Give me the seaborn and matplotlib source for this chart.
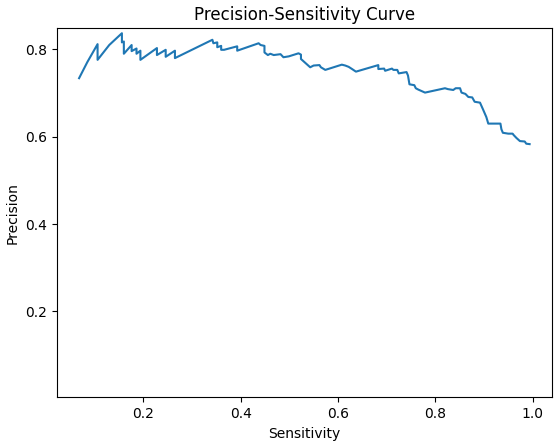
import matplotlib
matplotlib.use('Agg')

import pandas as pd
import matplotlib.pyplot as plt
import seaborn as sns

# Curve points (recall / precision pairs)
sensitivity = [
    0.068, 0.085, 0.106, 0.106, 0.130, 0.156, 0.156, 0.160, 0.160, 0.176,
    0.176, 0.186, 0.186, 0.194, 0.194, 0.228, 0.228, 0.246, 0.246, 0.265,
    0.265, 0.342, 0.344, 0.352, 0.352, 0.360, 0.360, 0.366, 0.393, 0.393,
    0.437, 0.441, 0.449, 0.449, 0.456, 0.461, 0.468, 0.482, 0.488, 0.499,
    0.519, 0.524, 0.524, 0.530, 0.536, 0.543, 0.550, 0.562, 0.565, 0.574,
    0.608, 0.615, 0.622, 0.629, 0.637, 0.683, 0.683, 0.695, 0.697, 0.711,
    0.714, 0.722, 0.725, 0.741, 0.744, 0.747, 0.757, 0.760, 0.765, 0.779,
    0.820, 0.826, 0.837, 0.842, 0.851, 0.854, 0.862, 0.868, 0.876, 0.881,
    0.892, 0.898, 0.905, 0.909, 0.934, 0.936, 0.939, 0.950, 0.959, 0.961,
    0.967, 0.974, 0.984, 0.987, 0.994
]
precision = [
    0.734, 0.771, 0.812, 0.776, 0.810, 0.837, 0.816, 0.818, 0.790, 0.810,
    0.796, 0.802, 0.790, 0.797, 0.776, 0.803, 0.787, 0.799, 0.783, 0.797,
    0.780, 0.822, 0.814, 0.816, 0.805, 0.808, 0.799, 0.799, 0.807, 0.797,
    0.814, 0.810, 0.808, 0.793, 0.787, 0.790, 0.787, 0.789, 0.782, 0.784,
    0.791, 0.788, 0.778, 0.772, 0.766, 0.759, 0.763, 0.764, 0.759, 0.753,
    0.765, 0.763, 0.760, 0.755, 0.749, 0.764, 0.755, 0.756, 0.751, 0.756,
    0.753, 0.753, 0.745, 0.748, 0.740, 0.720, 0.718, 0.711, 0.708, 0.701,
    0.711, 0.709, 0.707, 0.711, 0.711, 0.701, 0.698, 0.691, 0.690, 0.680,
    0.678, 0.663, 0.645, 0.630, 0.630, 0.617, 0.609, 0.607, 0.607, 0.604,
    0.597, 0.590, 0.589, 0.584, 0.583
]
y_ticks = [0.2, 0.4, 0.6, 0.8]

df = pd.DataFrame({'Sensitivity': sensitivity, 'Precision': precision})

# ================== PLOT ==================

fig, ax = plt.subplots(figsize=(5.6, 4.44), dpi=100)

sns.lineplot(
    data=df,
    x='Sensitivity',
    y='Precision',
    sort=False,
    estimator=None,
    color='#1f77b4',
    linewidth=1.5,
    ax=ax
)

ax.set_title('Precision-Sensitivity Curve')
ax.set_xlabel('Sensitivity')
ax.set_ylabel('Precision')
ax.set_ylim(0.003, 0.848)
ax.set_yticks(y_ticks)

plt.subplots_adjust(left=0.101, right=0.986, top=0.936, bottom=0.105)
plt.savefig('out.png', dpi=100)
plt.close()
